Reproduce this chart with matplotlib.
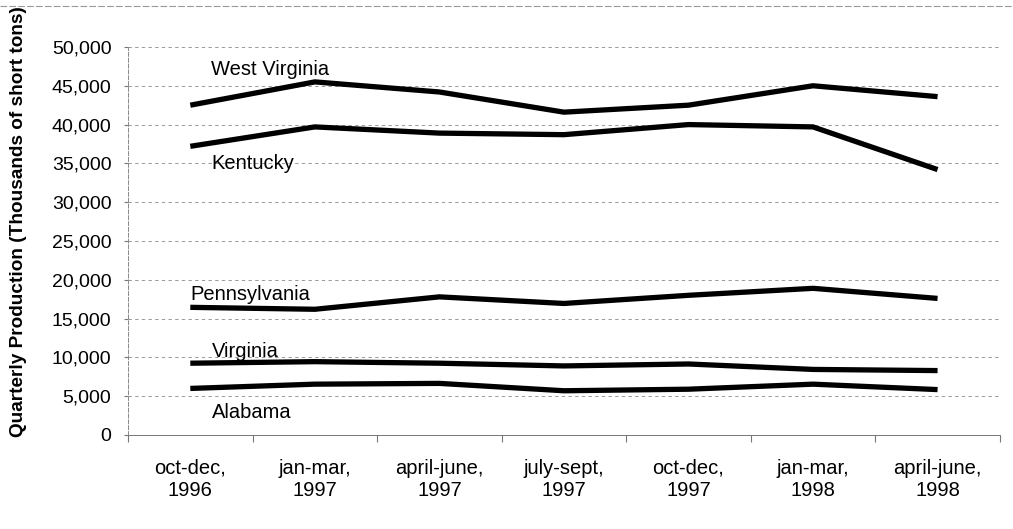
import numpy as np
import matplotlib.pyplot as plt
from matplotlib.ticker import FuncFormatter

# ============== Données ===================
quarters = ["oct-dec,\n1996", "jan-mar,\n1997", "april-june,\n1997", "july-sept,\n1997",
            "oct-dec,\n1997", "jan-mar,\n1998", "april-june,\n1998"]
west_virginia = [42500, 45500, 44200, 41600, 42500, 45000, 43600]
kentucky = [37200, 39700, 38900, 38700, 40000, 39700, 34200]
pennsylvania = [16450, 16200, 17800, 16950, 18000, 18900, 17600]
virginia = [9250, 9450, 9250, 8900, 9150, 8450, 8300]
alabama = [6000, 6550, 6650, 5700, 5900, 6550, 5850]

series = [west_virginia, kentucky, pennsylvania, virginia, alabama]
# (nom, x, y) des étiquettes placées sur le graphe
labels = [("West Virginia", 0.17, 47050), ("Kentucky", 0.17, 34950),
          ("Pennsylvania", 0.0, 18150), ("Virginia", 0.17, 10700),
          ("Alabama", 0.17, 2850)]

plt.rcParams["font.family"] = ["Liberation Sans", "DejaVu Sans"]

fig = plt.figure(figsize=(10.13, 5.29), dpi=100)
ax = fig.add_axes([0.1264, 0.1777, 0.8606, 0.7335])

x = np.arange(len(quarters))
for s in series:
    ax.plot(x, s, color="black", lw=3.8, solid_joinstyle="round", solid_capstyle="butt")

for name, lx, ly in labels:
    ax.text(lx, ly, name, fontsize=14.5, va="center", ha="left")

# ============== Axes ===================
ax.set_xlim(-0.5, len(quarters) - 0.5)
ax.set_ylim(0, 50000)
ax.set_yticks(np.arange(0, 50001, 5000))
ax.yaxis.set_major_formatter(FuncFormatter(lambda v, p: f"{int(v):,}"))
ax.tick_params(axis="y", length=3, color="#777777", labelsize=14, pad=9)

ax.set_xticks(np.arange(-0.5, len(quarters), 1.0))
ax.set_xticklabels([])
ax.set_xticks(x, minor=True)
ax.set_xticklabels(quarters, minor=True, fontsize=14.5, linespacing=1.25)
ax.tick_params(axis="x", which="major", length=5, color="#777777")
ax.tick_params(axis="x", which="minor", length=0, pad=17)

ax.grid(axis="y", color="#888888", lw=0.6, ls=(0, (4, 4)))
for side in ["top", "right"]:
    ax.spines[side].set_visible(False)
ax.spines["left"].set_color("#888888")
ax.spines["left"].set_linestyle((0, (4, 2)))
ax.spines["left"].set_linewidth(0.7)
ax.spines["bottom"].set_color("#777777")
ax.spines["bottom"].set_linewidth(0.7)

ax.set_ylabel("Quarterly Production (Thousands of short tons)", fontsize=13.7,
              fontweight="bold")
ax.yaxis.set_label_coords(-0.116, 0.55)

# ligne pointillée en haut de l'image
fig.add_artist(plt.Line2D([0, 1], [0.988, 0.988], color="#999999", lw=0.8, ls=(0, (6, 2))))

fig.savefig("out.png", dpi=100)
